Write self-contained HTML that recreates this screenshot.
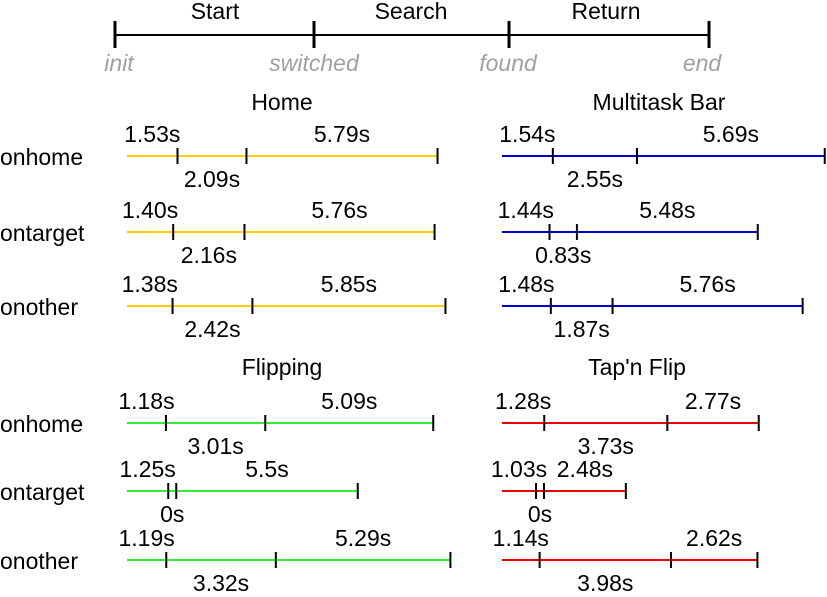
<!DOCTYPE html>
<html><head><meta charset="utf-8"><style>
body{margin:0;background:#fff;width:827px;height:592px;overflow:hidden}
svg{font-family:"Liberation Sans",Arial,sans-serif}
</style></head><body>
<svg id="c" width="827" height="592" xmlns="http://www.w3.org/2000/svg">
<g>
<line x1="115" y1="35" x2="709" y2="35" stroke="#000" stroke-width="2"/>
<line x1="115" y1="21" x2="115" y2="48" stroke="#000" stroke-width="3"/>
<line x1="314" y1="21" x2="314" y2="48" stroke="#000" stroke-width="3"/>
<line x1="509" y1="21" x2="509" y2="48" stroke="#000" stroke-width="3"/>
<line x1="709" y1="21" x2="709" y2="48" stroke="#000" stroke-width="3"/>
<text x="215" y="19" font-size="23" text-anchor="middle">Start</text>
<text x="411" y="19" font-size="23" text-anchor="middle">Search</text>
<text x="606" y="19" font-size="23" text-anchor="middle">Return</text>
<g font-size="23" font-style="italic" fill="#a0a0a0" text-anchor="middle">
<text x="119" y="71">init</text>
<text x="314" y="71">switched</text>
<text x="508" y="71">found</text>
<text x="702" y="71">end</text>
</g></g>
</svg>
<script>
const panelTitles=["Home","Multitask Bar","Flipping","Tap'n Flip"];
const rowNames=["onhome","ontarget","onother"];
const homeVals=[[1.53,2.09,5.79],[1.40,2.16,5.76],[1.38,2.42,5.85]];
const multiVals=[[1.54,2.55,5.69],[1.44,0.83,5.48],[1.48,1.87,5.76]];
const flipVals=[[1.18,3.01,5.09],[1.25,0,5.5],[1.19,3.32,5.29]];
const tapVals=[[1.28,3.73,2.77],[1.03,0,2.48],[1.14,3.98,2.62]];
const colors=["#ffcc00","#0000cc","#33ee33","#ee0000"];
const svg=document.getElementById('c');
const NS="http://www.w3.org/2000/svg";
const scale=33, minSeg=8, FS=23;
const fmt=d=>(d===0?'0':(Math.round(d*10)===d*10 && d>=5?String(d):d.toFixed(2)))+'s';
const panels=[[homeVals,127,[156,232,306],282,102],[multiVals,502,[156,232,306],659,102],[flipVals,127,[423,491,560],282,367],[tapVals,502,[423,491,560],637,367]];
function el(tag,attrs,parent){const e=document.createElementNS(NS,tag);for(const k in attrs)e.setAttribute(k,attrs[k]);(parent||svg).appendChild(e);return e;}
function txt(x,y,s,parent,anchor){const t=el('text',{x:x,y:y,'font-size':FS,'text-anchor':anchor||'middle'},parent);t.textContent=s;return t;}
const xPos=(x0,v)=>{let p=[x0];v.forEach(d=>p.push(p[p.length-1]+Math.max(d*scale,d===0?minSeg:0)));return p;};
panels.forEach((pn,pi)=>{
  const [vals,x0,ys,tx,ty]=pn;
  const g=el('g',{});
  
  
  const t=txt(tx,ty+8,panelTitles[pi],g);
  
  
  vals.forEach((v,ri)=>{
    const y=ys[ri];
    if(pi%2===0){const l=txt(0,y+9,rowNames[ri],g,'start');
      
      }
    const p=xPos(x0,v);
    const ln=el('line',{x1:p[0],y1:y,x2:p[3],y2:y,stroke:colors[pi],'stroke-width':2},g);
    
    
    for(let i=1;i<4;i++){const tk=el('line',{x1:p[i],y1:y-8,x2:p[i],y2:y+8,stroke:'#000','stroke-width':2},g);
      
      }
    v.forEach((d,i)=>{
      const mx=(p[i]+p[i+1])/2;
      const ly=i===1?y+31:y-14;
      const lab=txt(mx,ly,fmt(d),g);
      
      
    });
  });
});
</script>
</body></html>
